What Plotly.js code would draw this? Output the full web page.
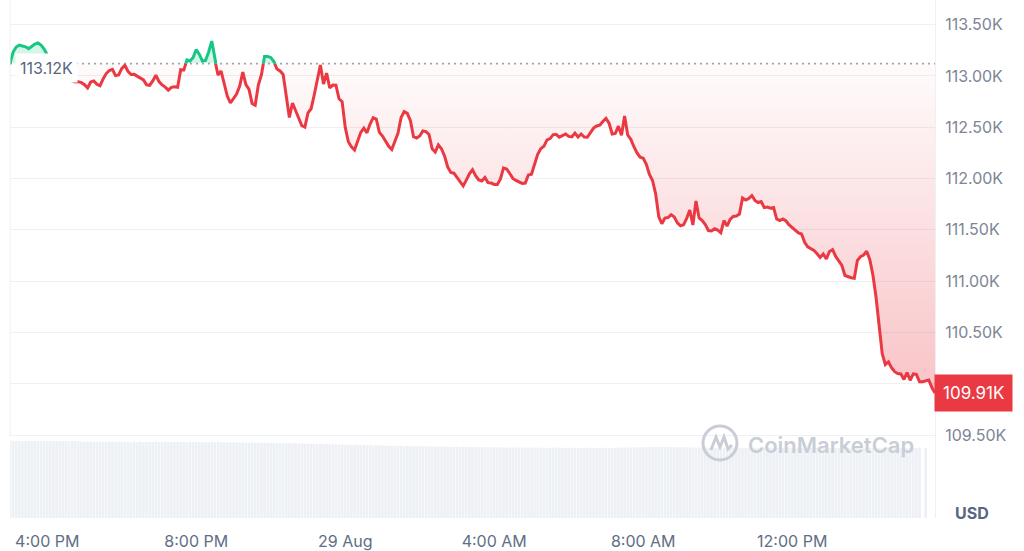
<!DOCTYPE html>
<html>
<head>
<meta charset="utf-8">
<script src="https://cdn.plot.ly/plotly-3.0.1.min.js"></script>
<style>
  html, body { margin: 0; padding: 0; background: #ffffff; }
  #chart { width: 1024px; height: 551px; }
</style>
</head>
<body>
<div id="chart"></div>
<script>
// ---- Data (BTC price in thousands USD, 5-minute steps) ----
const times = [
"2025-08-28 15:00","2025-08-28 15:05","2025-08-28 15:10","2025-08-28 15:15","2025-08-28 15:20","2025-08-28 15:25","2025-08-28 15:30","2025-08-28 15:35","2025-08-28 15:40","2025-08-28 15:45","2025-08-28 15:50","2025-08-28 15:55",
"2025-08-28 16:00","2025-08-28 16:05","2025-08-28 16:10","2025-08-28 16:15","2025-08-28 16:20","2025-08-28 16:25","2025-08-28 16:30","2025-08-28 16:35","2025-08-28 16:40","2025-08-28 16:45","2025-08-28 16:50","2025-08-28 16:55",
"2025-08-28 17:00","2025-08-28 17:05","2025-08-28 17:10","2025-08-28 17:15","2025-08-28 17:20","2025-08-28 17:25","2025-08-28 17:30","2025-08-28 17:35","2025-08-28 17:40","2025-08-28 17:45","2025-08-28 17:50","2025-08-28 17:55",
"2025-08-28 18:00","2025-08-28 18:05","2025-08-28 18:10","2025-08-28 18:15","2025-08-28 18:20","2025-08-28 18:25","2025-08-28 18:30","2025-08-28 18:35","2025-08-28 18:40","2025-08-28 18:45","2025-08-28 18:50","2025-08-28 18:55",
"2025-08-28 19:00","2025-08-28 19:05","2025-08-28 19:10","2025-08-28 19:15","2025-08-28 19:20","2025-08-28 19:25","2025-08-28 19:30","2025-08-28 19:35","2025-08-28 19:40","2025-08-28 19:45","2025-08-28 19:50","2025-08-28 19:55",
"2025-08-28 20:00","2025-08-28 20:05","2025-08-28 20:10","2025-08-28 20:15","2025-08-28 20:20","2025-08-28 20:25","2025-08-28 20:30","2025-08-28 20:35","2025-08-28 20:40","2025-08-28 20:45","2025-08-28 20:50","2025-08-28 20:55",
"2025-08-28 21:00","2025-08-28 21:05","2025-08-28 21:10","2025-08-28 21:15","2025-08-28 21:20","2025-08-28 21:25","2025-08-28 21:30","2025-08-28 21:35","2025-08-28 21:40","2025-08-28 21:45","2025-08-28 21:50","2025-08-28 21:55",
"2025-08-28 22:00","2025-08-28 22:05","2025-08-28 22:10","2025-08-28 22:15","2025-08-28 22:20","2025-08-28 22:25","2025-08-28 22:30","2025-08-28 22:35","2025-08-28 22:40","2025-08-28 22:45","2025-08-28 22:50","2025-08-28 22:55",
"2025-08-28 23:00","2025-08-28 23:05","2025-08-28 23:10","2025-08-28 23:15","2025-08-28 23:20","2025-08-28 23:25","2025-08-28 23:30","2025-08-28 23:35","2025-08-28 23:40","2025-08-28 23:45","2025-08-28 23:50","2025-08-28 23:55",
"2025-08-29 00:00","2025-08-29 00:05","2025-08-29 00:10","2025-08-29 00:15","2025-08-29 00:20","2025-08-29 00:25","2025-08-29 00:30","2025-08-29 00:35","2025-08-29 00:40","2025-08-29 00:45","2025-08-29 00:50","2025-08-29 00:55",
"2025-08-29 01:00","2025-08-29 01:05","2025-08-29 01:10","2025-08-29 01:15","2025-08-29 01:20","2025-08-29 01:25","2025-08-29 01:30","2025-08-29 01:35","2025-08-29 01:40","2025-08-29 01:45","2025-08-29 01:50","2025-08-29 01:55",
"2025-08-29 02:00","2025-08-29 02:05","2025-08-29 02:10","2025-08-29 02:15","2025-08-29 02:20","2025-08-29 02:25","2025-08-29 02:30","2025-08-29 02:35","2025-08-29 02:40","2025-08-29 02:45","2025-08-29 02:50","2025-08-29 02:55",
"2025-08-29 03:00","2025-08-29 03:05","2025-08-29 03:10","2025-08-29 03:15","2025-08-29 03:20","2025-08-29 03:25","2025-08-29 03:30","2025-08-29 03:35","2025-08-29 03:40","2025-08-29 03:45","2025-08-29 03:50","2025-08-29 03:55",
"2025-08-29 04:00","2025-08-29 04:05","2025-08-29 04:10","2025-08-29 04:15","2025-08-29 04:20","2025-08-29 04:25","2025-08-29 04:30","2025-08-29 04:35","2025-08-29 04:40","2025-08-29 04:45","2025-08-29 04:50","2025-08-29 04:55",
"2025-08-29 05:00","2025-08-29 05:05","2025-08-29 05:10","2025-08-29 05:15","2025-08-29 05:20","2025-08-29 05:25","2025-08-29 05:30","2025-08-29 05:35","2025-08-29 05:40","2025-08-29 05:45","2025-08-29 05:50","2025-08-29 05:55",
"2025-08-29 06:00","2025-08-29 06:05","2025-08-29 06:10","2025-08-29 06:15","2025-08-29 06:20","2025-08-29 06:25","2025-08-29 06:30","2025-08-29 06:35","2025-08-29 06:40","2025-08-29 06:45","2025-08-29 06:50","2025-08-29 06:55",
"2025-08-29 07:00","2025-08-29 07:05","2025-08-29 07:10","2025-08-29 07:15","2025-08-29 07:20","2025-08-29 07:25","2025-08-29 07:30","2025-08-29 07:35","2025-08-29 07:40","2025-08-29 07:45","2025-08-29 07:50","2025-08-29 07:55",
"2025-08-29 08:00","2025-08-29 08:05","2025-08-29 08:10","2025-08-29 08:15","2025-08-29 08:20","2025-08-29 08:25","2025-08-29 08:30","2025-08-29 08:35","2025-08-29 08:40","2025-08-29 08:45","2025-08-29 08:50","2025-08-29 08:55",
"2025-08-29 09:00","2025-08-29 09:05","2025-08-29 09:10","2025-08-29 09:15","2025-08-29 09:20","2025-08-29 09:25","2025-08-29 09:30","2025-08-29 09:35","2025-08-29 09:40","2025-08-29 09:45","2025-08-29 09:50","2025-08-29 09:55",
"2025-08-29 10:00","2025-08-29 10:05","2025-08-29 10:10","2025-08-29 10:15","2025-08-29 10:20","2025-08-29 10:25","2025-08-29 10:30","2025-08-29 10:35","2025-08-29 10:40","2025-08-29 10:45","2025-08-29 10:50","2025-08-29 10:55",
"2025-08-29 11:00","2025-08-29 11:05","2025-08-29 11:10","2025-08-29 11:15","2025-08-29 11:20","2025-08-29 11:25","2025-08-29 11:30","2025-08-29 11:35","2025-08-29 11:40","2025-08-29 11:45","2025-08-29 11:50","2025-08-29 11:55",
"2025-08-29 12:00","2025-08-29 12:05","2025-08-29 12:10","2025-08-29 12:15","2025-08-29 12:20","2025-08-29 12:25","2025-08-29 12:30","2025-08-29 12:35","2025-08-29 12:40","2025-08-29 12:45","2025-08-29 12:50","2025-08-29 12:55",
"2025-08-29 13:00","2025-08-29 13:05","2025-08-29 13:10","2025-08-29 13:15","2025-08-29 13:20","2025-08-29 13:25","2025-08-29 13:30","2025-08-29 13:35","2025-08-29 13:40","2025-08-29 13:45","2025-08-29 13:50","2025-08-29 13:55",
"2025-08-29 14:00","2025-08-29 14:05","2025-08-29 14:10","2025-08-29 14:15","2025-08-29 14:20","2025-08-29 14:25","2025-08-29 14:30","2025-08-29 14:35","2025-08-29 14:40","2025-08-29 14:45","2025-08-29 14:50","2025-08-29 14:55",
"2025-08-29 15:00","2025-08-29 15:05","2025-08-29 15:10","2025-08-29 15:15","2025-08-29 15:20","2025-08-29 15:25","2025-08-29 15:30","2025-08-29 15:35","2025-08-29 15:40","2025-08-29 15:45","2025-08-29 15:50"
];

const prices = [
113.120,113.233,113.282,113.301,113.292,113.284,113.266,113.287,113.311,113.321,113.301,113.262,
113.204,113.136,113.077,113.038,113.009,112.990,112.970,112.960,112.950,112.941,112.944,112.934,
112.914,112.882,112.941,112.951,112.919,112.904,112.970,113.023,113.053,113.064,113.003,113.009,
113.072,113.104,113.045,113.014,113.015,112.997,112.975,112.961,112.913,112.908,112.952,113.007,
112.945,112.912,112.891,112.861,112.888,112.895,112.890,113.061,113.058,113.155,113.145,113.180,
113.258,113.209,113.145,113.150,113.233,113.340,113.155,113.009,113.048,112.921,112.804,112.736,
112.780,112.824,112.902,113.038,112.916,112.869,112.731,112.714,112.911,113.011,113.189,113.190,
113.180,113.140,113.067,113.048,113.014,112.814,112.595,112.736,112.671,112.590,112.516,112.502,
112.639,112.680,112.814,112.975,113.106,112.921,113.028,112.882,112.911,112.909,112.777,112.749,
112.499,112.358,112.308,112.278,112.370,112.450,112.491,112.445,112.531,112.593,112.580,112.450,
112.414,112.364,112.314,112.282,112.367,112.442,112.594,112.652,112.635,112.564,112.407,112.395,
112.414,112.463,112.457,112.429,112.290,112.257,112.327,112.290,112.219,112.112,112.059,112.052,
112.011,111.970,111.927,111.984,112.046,112.085,112.027,111.986,111.976,112.010,111.960,111.956,
111.942,111.942,111.995,112.103,112.093,112.049,112.001,111.981,111.969,111.952,111.956,112.034,
112.041,112.142,112.236,112.291,112.314,112.377,112.389,112.428,112.429,112.403,112.422,112.434,
112.410,112.405,112.443,112.405,112.434,112.405,112.402,112.442,112.491,112.512,112.519,112.556,
112.586,112.539,112.434,112.439,112.510,112.421,112.609,112.424,112.382,112.310,112.250,112.208,
112.198,112.139,112.039,111.981,111.851,111.630,111.559,111.615,111.620,111.648,111.625,111.568,
111.539,111.549,111.612,111.693,111.547,111.781,111.615,111.591,111.552,111.493,111.488,111.510,
111.498,111.472,111.590,111.537,111.601,111.630,111.635,111.654,111.810,111.791,111.805,111.834,
111.787,111.766,111.776,111.716,111.722,111.711,111.717,111.605,111.591,111.606,111.586,111.547,
111.522,111.495,111.469,111.459,111.379,111.334,111.320,111.300,111.266,111.230,111.264,111.215,
111.289,111.307,111.241,111.190,111.152,111.055,111.041,111.033,111.028,111.201,111.239,111.254,
111.291,111.208,111.060,110.845,110.567,110.293,110.186,110.212,110.156,110.117,110.100,110.095,
110.042,110.109,110.034,110.095,110.090,110.020,110.020,110.026,110.036,109.963,109.910
];

// 24h volume (billions USD)
const volumes = [
77.4,77.1,77.3,77.0,76.8,77.2,77.1,76.9,77.3,77.0,76.8,77.1,
77.0,76.9,77.2,76.8,77.1,76.9,77.0,76.7,76.9,77.1,76.6,76.4,
76.2,76.5,76.3,76.1,76.4,76.2,76.0,76.3,76.1,76.4,75.9,76.2,
76.0,76.3,76.1,75.8,76.2,76.0,76.3,75.9,76.1,76.0,75.8,76.2,
76.0,75.9,76.3,76.1,75.8,76.0,76.2,75.9,76.1,75.7,76.0,75.8,
76.1,75.9,75.7,76.0,75.8,76.1,75.6,75.9,75.7,75.8,75.5,75.7,
75.6,75.8,75.4,75.7,75.5,75.3,75.6,75.4,75.2,75.5,75.3,75.1,
75.0,75.3,74.9,75.1,74.8,74.6,74.9,74.5,74.7,74.4,74.6,74.3,
74.2,74.5,74.1,73.9,74.2,73.8,74.0,73.7,73.5,73.8,73.4,73.6,
73.3,73.5,73.1,72.9,73.2,72.8,73.0,72.7,72.9,72.5,72.8,72.4,
72.6,72.3,72.5,72.1,72.4,72.0,72.2,71.9,72.1,71.8,72.0,71.7,
71.9,71.6,71.8,71.5,71.7,71.4,71.6,71.3,71.5,71.2,71.4,71.1,
71.3,71.0,71.2,70.9,71.1,70.8,71.0,70.7,70.9,70.6,70.8,70.5,
70.7,70.5,70.8,70.4,70.6,70.3,70.5,70.7,70.4,70.6,70.2,70.5,
70.3,70.6,70.4,70.2,70.5,70.3,70.1,70.4,70.2,70.5,70.3,70.0,
70.2,70.4,70.1,70.3,70.0,70.2,70.4,70.1,70.3,70.0,70.2,70.4,
70.1,70.3,70.0,70.2,70.5,70.3,70.6,70.4,70.7,70.5,70.8,70.6,
70.9,70.7,71.0,70.8,71.1,70.9,71.2,71.0,70.8,71.1,70.9,70.7,
70.9,70.6,70.8,70.5,70.7,70.4,70.6,70.3,70.5,70.2,70.4,70.1,
70.3,70.0,70.2,69.9,70.1,70.4,70.0,70.2,69.9,70.1,70.3,70.0,
70.2,69.9,70.1,70.3,70.0,70.2,69.8,70.1,70.3,70.0,70.2,69.9,
70.1,70.3,70.0,70.2,69.9,70.1,70.4,70.0,70.2,69.9,70.1,70.3,
70.0,70.2,69.9,70.1,70.3,70.0,70.2,69.8,70.1,70.3,70.0,70.2,
70.4,70.1,70.3,70.0,70.2,70.5,70.1,70.3,70.0,70.2,70.4,70.1,
70.3,70.0,70.2,70.4,70.1,70.3,null,70.0,null,null,null
];

const baseLine = 113.12;   // opening price (K USD)
const priceTicks = [109.5, 110.0, 110.5, 111.0, 111.5, 112.0, 112.5, 113.0, 113.5];
const hiddenTick = 110.0;  // label covered by the last-price tag in the original
const timeTicks = ["2025-08-28 16:00","2025-08-28 20:00","2025-08-29 00:00","2025-08-29 04:00","2025-08-29 08:00","2025-08-29 12:00"];
const timeTickLabels = ["4:00 PM","8:00 PM","29 Aug","4:00 AM","8:00 AM","12:00 PM"];

// ---- Layout constants ----
const yMin = 108.691, yMax = 113.740;
const volMax = 78;
const volFrac = 78 / 518;
const splitFrac = (baseLine - yMin) / (yMax - yMin);
const FONT = "Inter, 'Noto Sans', sans-serif";
const RED = '#ea3943', GREEN = '#16c784';

const baseSeries = times.map(() => baseLine);
const lastTime = times[times.length - 1];
const lastPrice = prices[prices.length - 1];

const traces = [
  // dotted opening-price reference line
  { x: [times[0], lastTime], y: [baseLine, baseLine], xaxis: 'x', yaxis: 'y', mode: 'lines',
    line: { color: '#9ea7b8', width: 1.6, dash: '2px,4px' }, hoverinfo: 'skip' },
  { x: times, y: volumes, xaxis: 'x', yaxis: 'y4', type: 'bar',
    marker: { color: '#edf0f4', line: { width: 0 } }, hoverinfo: 'skip' },
  // below-open part (red), clipped to lower subplot
  { x: times, y: baseSeries, xaxis: 'x', yaxis: 'y2', mode: 'lines', line: { width: 0 }, hoverinfo: 'skip' },
  { x: times, y: prices, xaxis: 'x', yaxis: 'y2', mode: 'lines', fill: 'tonexty',
    fillgradient: { type: 'vertical', colorscale: [[0, 'rgba(234,57,67,0.30)'], [1, 'rgba(234,57,67,0.0)']] },
    line: { color: RED, width: 3 } },
  // above-open part (green), clipped to upper subplot
  { x: times, y: baseSeries, xaxis: 'x', yaxis: 'y3', mode: 'lines', line: { width: 0 }, hoverinfo: 'skip' },
  { x: times, y: prices, xaxis: 'x', yaxis: 'y3', mode: 'lines', fill: 'tonexty',
    fillcolor: 'rgba(22,199,132,0.18)', line: { color: GREEN, width: 3 } }
];

const layout = {
  width: 1024, height: 551,
  margin: { l: 10, r: 89, t: 0, b: 33, pad: 0 },
  paper_bgcolor: '#ffffff', plot_bgcolor: 'rgba(0,0,0,0)',
  showlegend: false, bargap: 0.15,
  font: { family: FONT },
  xaxis: {
    type: 'date', range: [times[0], lastTime], anchor: 'y',
    tickvals: timeTicks, ticktext: timeTickLabels,
    showgrid: false, zeroline: false, showline: false, ticks: '',
    tickfont: { size: 16, color: '#616e85', family: FONT }, ticklabelstandoff: 12
  },
  yaxis: {
    side: 'right', domain: [0, 1], range: [yMin, yMax], anchor: 'x',
    tickvals: priceTicks, ticktext: priceTicks.map(v => v === hiddenTick ? '' : v.toFixed(2) + 'K'),
    showgrid: true, gridcolor: '#eef0f3', gridwidth: 1,
    zeroline: false, showline: true, linecolor: '#eef0f3', ticks: '',
    tickfont: { size: 16, color: '#7d8596', family: FONT }, ticklabelstandoff: 6
  },
  yaxis2: { domain: [0, splitFrac], range: [yMin, baseLine], visible: false, anchor: 'x' },
  yaxis3: { domain: [splitFrac, 1], range: [baseLine, yMax], visible: false, anchor: 'x' },
  yaxis4: { domain: [0, volFrac], range: [0, volMax], visible: false, anchor: 'x' },
  shapes: [
    { type: 'line', xref: 'paper', yref: 'paper', x0: 0, x1: 0, y0: (518 - 437) / 518, y1: 1,
      line: { color: '#eef0f3', width: 1 } },
    { type: 'circle', xref: 'paper', yref: 'paper', x0: 0.7492, x1: 0.7859, y0: 0.112, y1: 0.1776,
      line: { color: '#c9ced6', width: 3 } },
    { type: 'path', xref: 'paper', yref: 'paper',
      path: 'M0.7578,0.1313 L0.7632,0.1564 L0.7676,0.1371 L0.7719,0.1564 L0.7762,0.1332 L0.7805,0.1409',
      line: { color: '#c9ced6', width: 3 } }
  ],
  annotations: [
    { xref: 'x', yref: 'y', x: times[0], y: baseLine, xanchor: 'left', yanchor: 'middle',
      xshift: 5, yshift: -4, text: baseLine.toFixed(2) + 'K', showarrow: false,
      bgcolor: '#ffffff', borderpad: 4,
      font: { size: 16, color: '#58667e', family: FONT } },
    { xref: 'paper', yref: 'y', x: 1, y: lastPrice, xanchor: 'left', yanchor: 'middle',
      xshift: -1, text: lastPrice.toFixed(2) + 'K', showarrow: false,
      bgcolor: RED, borderpad: 8, font: { size: 17, color: '#ffffff', family: FONT } },
    { xref: 'paper', yref: 'paper', x: 1, y: 0, xanchor: 'center', yanchor: 'middle',
      xshift: 37, yshift: 5, text: 'USD', showarrow: false,
      font: { size: 16, color: '#58667e', family: FONT, weight: 700 } },
    { xref: 'paper', yref: 'paper', x: 0.8876, y: 0.1409, xanchor: 'center', yanchor: 'middle',
      text: 'CoinMarketCap', showarrow: false,
      font: { size: 22, color: '#c9ced6', family: FONT, weight: 600 } }
  ]
};

Plotly.newPlot('chart', traces, layout, { displayModeBar: false, staticPlot: true });
</script>
</body>
</html>
